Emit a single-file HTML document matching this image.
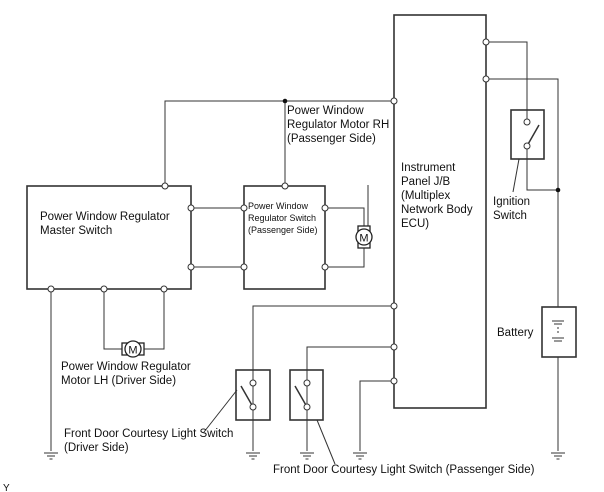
<!DOCTYPE html>
<html><head><style>
html,body{margin:0;padding:0;background:#fff;}
svg{display:block}
text{font-family:"Liberation Sans",Arial,sans-serif;fill:#111;}
</style></head><body>
<svg width="604" height="492" viewBox="0 0 604 492" xmlns="http://www.w3.org/2000/svg">
<defs>
<g id="g"><line x1="-7" y1="0" x2="7" y2="0"/><line x1="-4" y1="3" x2="4" y2="3"/><line x1="-1.5" y1="6" x2="1.5" y2="6"/></g>
</defs>
<g fill="none" stroke="#333" stroke-width="1">
<rect x="394" y="15" width="92" height="393" stroke-width="1.6"/>
<polyline points="165,186 165,101 394,101"/>
<line x1="285" y1="101" x2="285" y2="186"/>
<rect x="27" y="186" width="164" height="103" stroke-width="1.6"/>
<rect x="244" y="186" width="81" height="103" stroke-width="1.6"/>
<line x1="191" y1="208" x2="244" y2="208"/>
<line x1="191" y1="267" x2="244" y2="267"/>
<polyline points="325,208 364,208 364,230"/>
<polyline points="364,244 364,267 325,267"/>
<line x1="368" y1="185" x2="368" y2="228"/>
<line x1="51" y1="289" x2="51" y2="451"/>
<polyline points="104,289 104,349 122,349"/>
<polyline points="144,349 164,349 164,289"/>
<polyline points="486,42 527,42 527,122"/>
<polyline points="527,146 527,190 558,190"/>
<rect x="511" y="110" width="33" height="49" stroke-width="1.6"/>
<line x1="527" y1="146" x2="539" y2="125" stroke-width="1.5"/>
<line x1="519" y1="159" x2="513" y2="192"/>
<polyline points="486,79 558,79 558,307"/>
<rect x="542" y="307" width="34" height="50" stroke-width="1.6"/>
<line x1="558" y1="357" x2="558" y2="451"/>
<line x1="552" y1="321" x2="564" y2="321"/><line x1="554" y1="324" x2="562" y2="324"/>
<line x1="558" y1="327" x2="558" y2="333" stroke-dasharray="2,2"/>
<line x1="552" y1="338" x2="564" y2="338"/><line x1="554" y1="341" x2="562" y2="341"/>
<polyline points="394,306 253,306 253,404"/>
<line x1="253" y1="410" x2="253" y2="451"/>
<rect x="236" y="370" width="34" height="50" stroke-width="1.6"/>
<line x1="253" y1="407" x2="241" y2="386" stroke-width="1.5"/>
<line x1="237" y1="390" x2="204" y2="432"/>
<polyline points="394,347 307,347 307,404"/>
<line x1="307" y1="410" x2="307" y2="451"/>
<rect x="290" y="370" width="33" height="50" stroke-width="1.6"/>
<line x1="307" y1="407" x2="295" y2="386" stroke-width="1.5"/>
<line x1="317" y1="420" x2="335" y2="464"/>
<polyline points="394,381 360,381 360,451"/>
</g>
<g stroke="#333" stroke-width="1">
<use href="#g" x="51" y="453"/><use href="#g" x="253" y="453"/><use href="#g" x="307" y="453"/><use href="#g" x="360" y="453"/><use href="#g" x="558" y="453"/>
</g>
<g stroke="#222" fill="#fff">
<rect x="122" y="343" width="22" height="12" stroke-width="1.3"/>
<circle cx="133" cy="349" r="8" stroke-width="1.3"/>
<rect x="358" y="226" width="12" height="22" stroke-width="1.3"/>
<circle cx="364" cy="237" r="8" stroke-width="1.3"/>
</g>
<text x="133" y="353.5" font-size="11" text-anchor="middle">M</text>
<text x="364" y="241.5" font-size="11" text-anchor="middle">M</text>
<g fill="#111"><circle cx="285" cy="101" r="2.3"/><circle cx="558" cy="190" r="2.3"/></g>
<g fill="#fff" stroke="#333" stroke-width="1">
<circle cx="394" cy="101" r="3"/><circle cx="486" cy="42" r="3"/><circle cx="486" cy="79" r="3"/>
<circle cx="165" cy="186" r="3"/><circle cx="285" cy="186" r="3"/>
<circle cx="191" cy="208" r="3"/><circle cx="191" cy="267" r="3"/>
<circle cx="244" cy="208" r="3"/><circle cx="244" cy="267" r="3"/>
<circle cx="325" cy="208" r="3"/><circle cx="325" cy="267" r="3"/>
<circle cx="51" cy="289" r="3"/><circle cx="104" cy="289" r="3"/><circle cx="164" cy="289" r="3"/>
<circle cx="394" cy="306" r="3"/><circle cx="394" cy="347" r="3"/><circle cx="394" cy="381" r="3"/>
<circle cx="527" cy="122" r="3"/><circle cx="527" cy="146" r="3"/>
<circle cx="253" cy="383" r="3"/><circle cx="253" cy="407" r="3"/>
<circle cx="307" cy="383" r="3"/><circle cx="307" cy="407" r="3"/>
</g>
<g font-size="11.5">
<text x="287" y="114">Power Window</text>
<text x="287" y="128">Regulator Motor RH</text>
<text x="287" y="142">(Passenger Side)</text>
<text x="40" y="220">Power Window Regulator</text>
<text x="40" y="234">Master Switch</text>
<text x="401" y="171">Instrument</text>
<text x="401" y="185">Panel J/B</text>
<text x="401" y="199">(Multiplex</text>
<text x="401" y="213">Network Body</text>
<text x="401" y="227">ECU)</text>
<text x="493" y="205">Ignition</text>
<text x="493" y="219">Switch</text>
<text x="497" y="336">Battery</text>
<text x="61" y="370">Power Window Regulator</text>
<text x="61" y="384">Motor LH (Driver Side)</text>
<text x="64" y="437">Front Door Courtesy Light Switch</text>
<text x="64" y="451">(Driver Side)</text>
<text x="273" y="473">Front Door Courtesy Light Switch (Passenger Side)</text>
<text x="3" y="491" font-size="10">Y</text>
</g>
<g font-size="9">
<text x="248" y="209">Power Window</text>
<text x="248" y="221">Regulator Switch</text>
<text x="248" y="233">(Passenger Side)</text>
</g>
</svg>
</body></html>
